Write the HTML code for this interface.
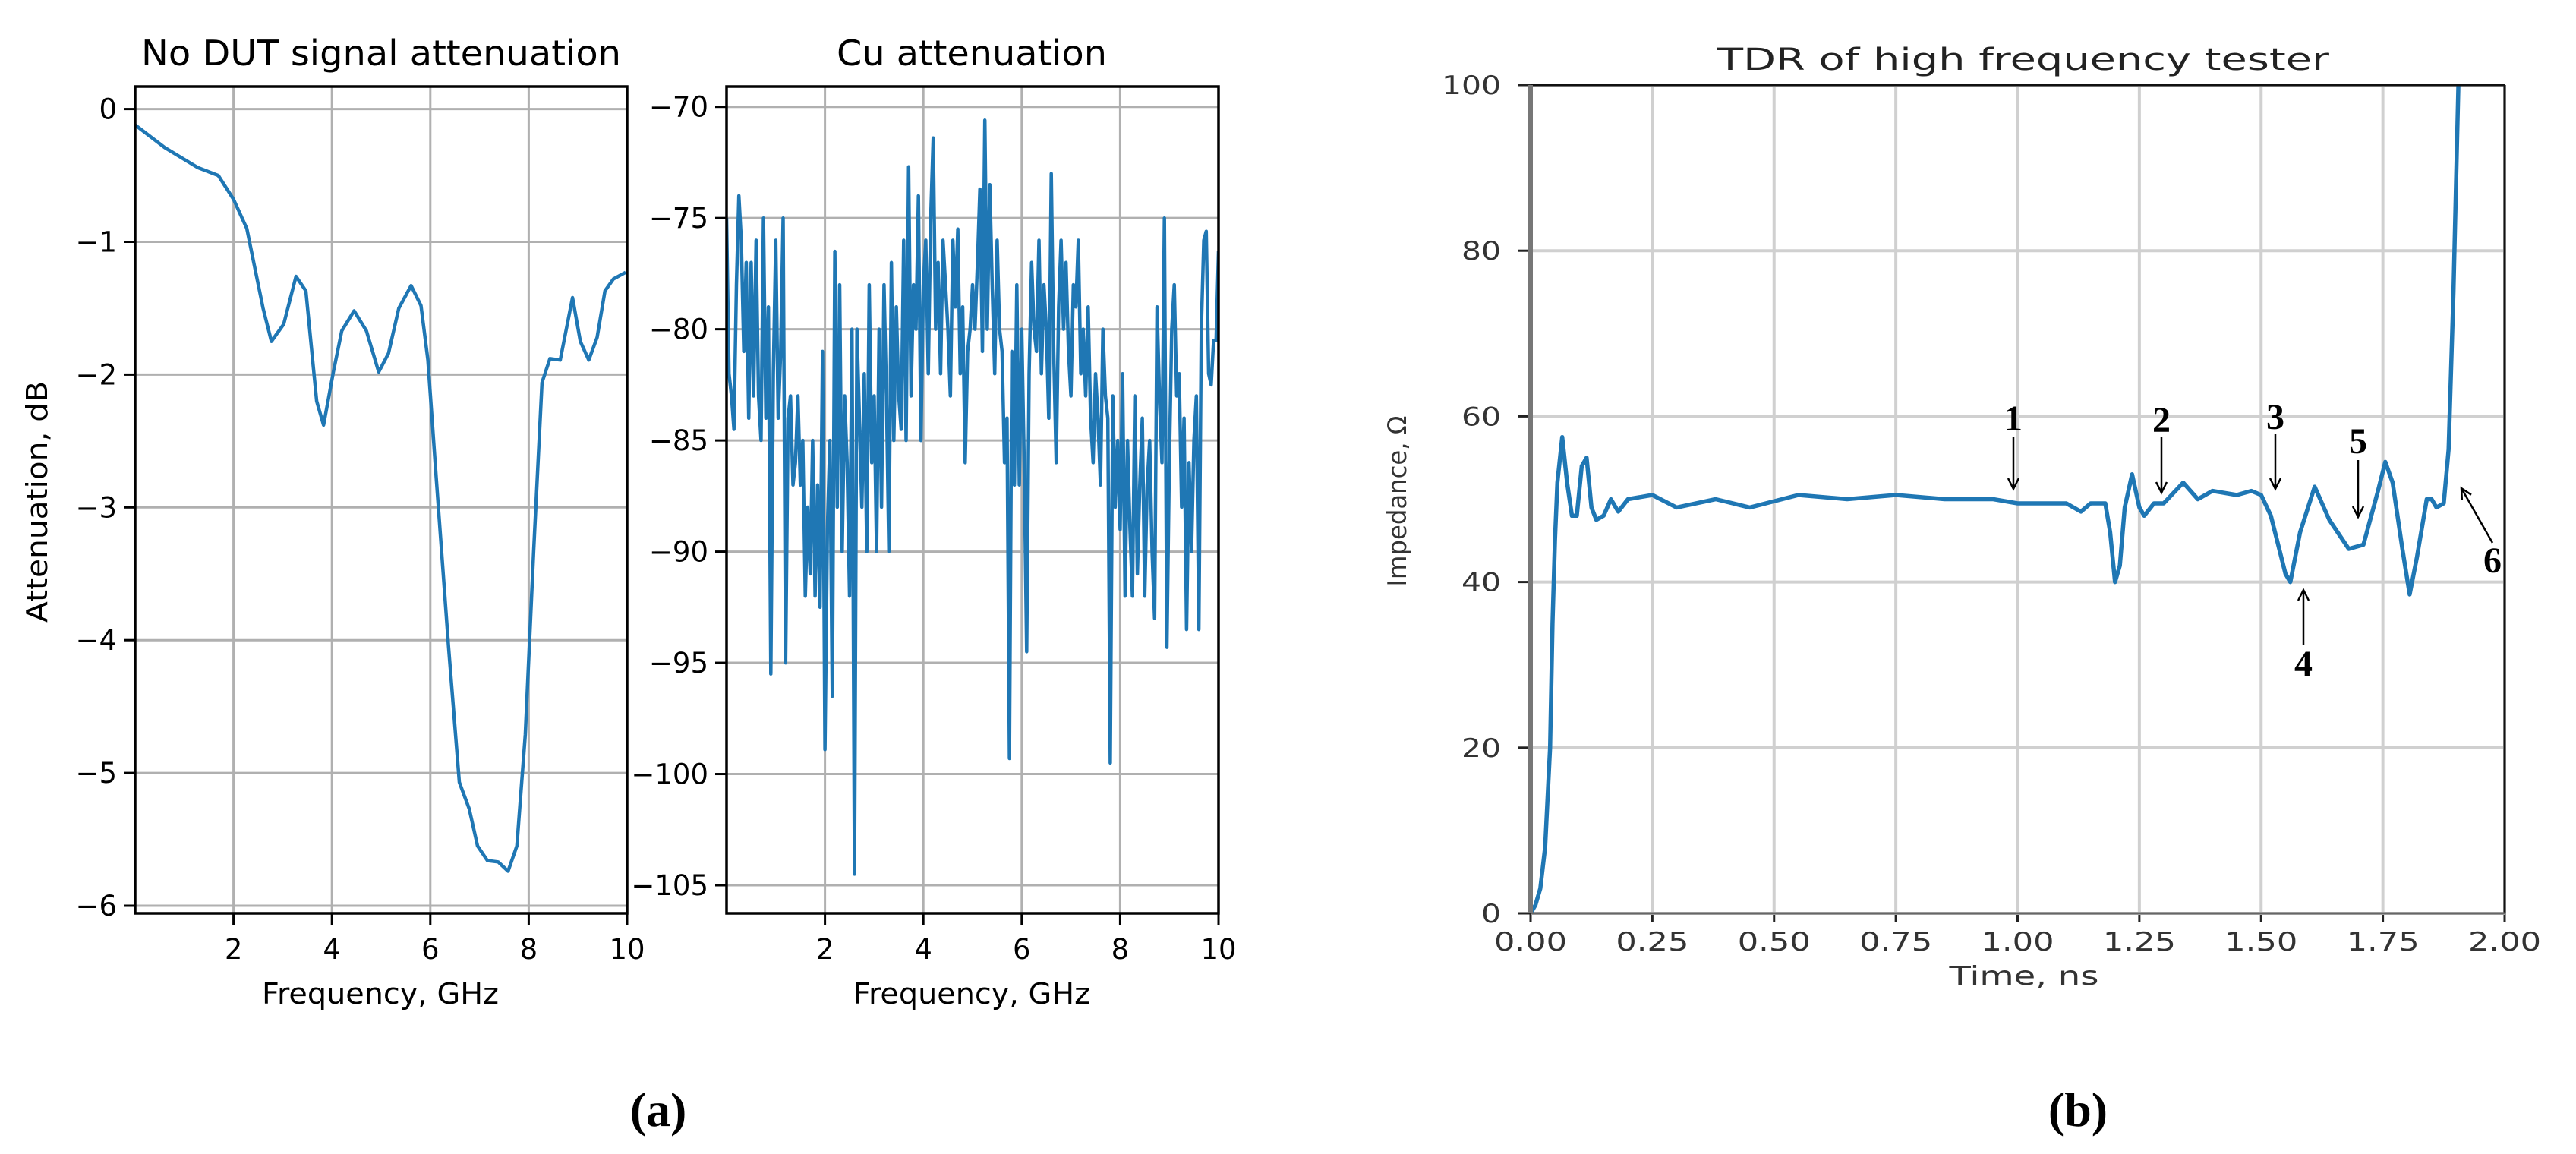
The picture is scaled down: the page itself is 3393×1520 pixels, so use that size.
<!DOCTYPE html>
<html><head><meta charset="utf-8"><style>
html,body{margin:0;padding:0;background:#fff;}
svg{display:block;}
text{font-family:"DejaVu Sans","Liberation Sans",sans-serif;}
</style></head><body>
<svg id="fig" width="3393" height="1520" viewBox="0 0 3393 1520" xmlns="http://www.w3.org/2000/svg"></svg>
<script>
// ---- Panel A: No DUT signal attenuation ----
const aFreq = [0.0,0.6,1.27,1.69,2.0,2.27,2.6,2.77,3.02,3.27,3.47,3.69,3.83,4.03,4.2,4.45,4.7,4.95,5.15,5.36,5.61,5.81,5.95,6.12,6.37,6.59,6.79,6.96,7.16,7.38,7.58,7.76,7.93,8.1,8.27,8.43,8.64,8.89,9.05,9.22,9.39,9.55,9.72,9.97];
const aAtt = [-0.12,-0.29,-0.44,-0.5,-0.68,-0.9,-1.5,-1.75,-1.62,-1.26,-1.37,-2.2,-2.38,-1.98,-1.67,-1.52,-1.67,-1.98,-1.84,-1.5,-1.33,-1.48,-1.89,-2.78,-4.05,-5.07,-5.27,-5.55,-5.66,-5.67,-5.74,-5.55,-4.71,-3.33,-2.06,-1.88,-1.89,-1.42,-1.75,-1.89,-1.72,-1.37,-1.28,-1.23];
const aYTicks = [0,-1,-2,-3,-4,-5,-6];
const aYLabels = ["0","−1","−2","−3","−4","−5","−6"];
const freqTicks = [2,4,6,8,10];
const freqLabels = ["2","4","6","8","10"];
// ---- Panel B: Cu attenuation (0.05 GHz step) ----
const cuAtt = [
-75,-82,-83,-84.5,-78,-74,-76,-81,-77,-84,-77,-83,-76,-83,-85,-75,-84,-79,-95.5,-82,
-76,-84,-81,-75,-95,-84,-83,-87,-86,-83,-87,-85,-92,-88,-91,-85,-92,-87,-92.5,-81,
-98.9,-89,-85,-96.5,-76.5,-88,-78,-90,-83,-86,-92,-80,-104.5,-80,-84,-88,-82,-90,-78,-86,
-83,-90,-80,-88,-78,-83,-90,-77,-85,-79,-83,-84.5,-76,-85,-72.7,-83,-78,-80,-74,-85,
-78,-76,-82,-75,-71.4,-80,-77,-82,-76,-78,-80,-83,-76,-79,-75.5,-82,-79,-86,-81,-80,
-78,-80,-77,-73.7,-81,-70.6,-80,-73.5,-78,-82,-76,-80,-81,-86,-84,-99.3,-81,-87,-78,-87,
-80,-86,-94.5,-82,-77,-80,-81,-76,-82,-78,-80,-84,-73,-81,-86,-79,-76,-80,-77,-81,
-83,-78,-79,-76,-82,-80,-83,-79,-84,-86,-82,-84,-87,-80,-83,-84,-99.5,-83,-88,-85,
-89,-82,-92,-85,-89,-92,-83,-91,-87,-84,-92,-87,-85,-90,-93,-79,-83,-86,-75,-94.3,
-86,-80,-78,-83,-82,-88,-84,-93.5,-86,-90,-85,-83,-93.5,-80,-76,-75.6,-82,-82.5,-80.5,-80.5,-76.5];
const cuStep = 0.05;
const cuYTicks = [-70,-75,-80,-85,-90,-95,-100,-105];
const cuYLabels = ["−70","−75","−80","−85","−90","−95","−100","−105"];
// ---- Panel C: TDR ----
const tdrTime = [0,0.01,0.02,0.03,0.04,0.045,0.05,0.055,0.065,0.075,0.085,0.095,0.105,0.115,0.125,0.135,0.15,0.165,0.18,0.2,0.25,0.3,0.38,0.45,0.55,0.65,0.75,0.85,0.95,1.0,1.1,1.13,1.15,1.18,1.19,1.2,1.21,1.22,1.235,1.25,1.26,1.28,1.3,1.34,1.37,1.4,1.45,1.48,1.5,1.52,1.55,1.56,1.58,1.61,1.64,1.68,1.71,1.74,1.755,1.77,1.79,1.805,1.82,1.84,1.85,1.86,1.875,1.885,1.895,1.905,1.91];
const tdrZ = [0,1,3,8,20,35,45,52,57.5,52,48,48,54,55,49,47.5,48,50,48.5,50,50.5,49,50,49,50.5,50,50.5,50,50,49.5,49.5,48.5,49.5,49.5,46,40,42,49,53,49,48,49.5,49.5,52,50,51,50.5,51,50.5,48,41,40,46,51.5,47.5,44,44.5,51,54.5,52,44,38.5,43,50,50,49,49.5,56,75,100,108];
const tTicks = [0,0.25,0.5,0.75,1.0,1.25,1.5,1.75,2.0];
const tLabels = ["0.00","0.25","0.50","0.75","1.00","1.25","1.50","1.75","2.00"];
const zTicks = [0,20,40,60,80,100];
const zLabels = ["0","20","40","60","80","100"];

const NS="http://www.w3.org/2000/svg";
const svg=document.getElementById('fig');
function el(tag,attrs,parent,txt){const e=document.createElementNS(NS,tag);for(const k in attrs)e.setAttribute(k,attrs[k]);if(txt!==undefined)e.textContent=txt;(parent||svg).appendChild(e);return e;}
function lin(d0,d1,p0,p1){return v=>p0+(v-d0)/(d1-d0)*(p1-p0);}
const BLUE="#1f77b4";
const SERIF='font-family:"Liberation Serif","DejaVu Serif",serif;font-weight:bold;';

const A={l:178,r:826,t:114,b:1203};
const ax=lin(0,10,A.l,A.r), ay=lin(0,-6,143.6,1193);
const B={l:957,r:1605,t:114,b:1203};
const bx=lin(0,10,B.l,B.r), by=lin(-70,-105,140.7,1166);
const C={l:2016,r:3299,t:112,b:1203};
const cx=lin(0,2,C.l,C.r), cy=lin(0,100,C.b,C.t);

function mplPanel(P,xs,ys,xTicks,xLabs,yTicks,yLabs,name){
  const g=el('g',{},svg);
  
  
  const clipId=name+'-clip';
  const cp=el('clipPath',{id:clipId},g);el('rect',{x:P.l,y:P.t,width:P.r-P.l,height:P.b-P.t},cp);
  xTicks.forEach((v,i)=>{
    const x=xs(v);
    const gl=el('line',{x1:x,x2:x,y1:P.t,y2:P.b,stroke:'#b0b0b0','stroke-width':3},g);
    
    el('line',{x1:x,x2:x,y1:P.b,y2:P.b+15,stroke:'#000','stroke-width':3},g);
    const t=el('text',{x:x,y:P.b+60,'font-size':37,'text-anchor':'middle',fill:'#000'},g,xLabs[i]);
    
  });
  yTicks.forEach((v,i)=>{
    const y=ys(v);
    const gl=el('line',{x1:P.l,x2:P.r,y1:y,y2:y,stroke:'#b0b0b0','stroke-width':3},g);
    
    el('line',{x1:P.l-15,x2:P.l,y1:y,y2:y,stroke:'#000','stroke-width':3},g);
    const t=el('text',{x:P.l-24,y:y+13,'font-size':37,'text-anchor':'end',fill:'#000'},g,yLabs[i]);
    
  });
  return {g,clipId};
}

{
  const {g,clipId}=mplPanel(A,ax,ay,freqTicks,freqLabels,aYTicks,aYLabels,'no-dut-panel');
  const pts=aFreq.map((f,i)=>ax(f).toFixed(1)+','+ay(aAtt[i]).toFixed(1)).join(' ');
  const pl=el('polyline',{points:pts,fill:'none',stroke:BLUE,'stroke-width':4.5,'stroke-linejoin':'round','clip-path':'url(#'+clipId+')'},g);
  
  el('rect',{x:A.l,y:A.t,width:A.r-A.l,height:A.b-A.t,fill:'none',stroke:'#000','stroke-width':3.5},g);
  const tt=el('text',{x:(A.l+A.r)/2,y:86,'font-size':46,'text-anchor':'middle',textLength:632,lengthAdjust:'spacingAndGlyphs'},g,'No DUT signal attenuation');
  
  const xl=el('text',{x:501,y:1322,'font-size':38,'text-anchor':'middle',textLength:312,lengthAdjust:'spacingAndGlyphs'},g,'Frequency, GHz');
  
  const yl=el('text',{x:0,y:0,'font-size':38,'text-anchor':'middle',textLength:318,lengthAdjust:'spacingAndGlyphs',transform:'translate(62,661) rotate(-90)'},g,'Attenuation, dB');
  
}
{
  const {g,clipId}=mplPanel(B,bx,by,freqTicks,freqLabels,cuYTicks,cuYLabels,'cu-panel');
  const pts=cuAtt.map((v,i)=>bx(i*cuStep).toFixed(1)+','+by(v).toFixed(1)).join(' ');
  const pl=el('polyline',{points:pts,fill:'none',stroke:BLUE,'stroke-width':4.5,'stroke-linejoin':'round','clip-path':'url(#'+clipId+')'},g);
  
  el('rect',{x:B.l,y:B.t,width:B.r-B.l,height:B.b-B.t,fill:'none',stroke:'#000','stroke-width':3.5},g);
  const tt=el('text',{x:1280,y:86,'font-size':46,'text-anchor':'middle',textLength:356,lengthAdjust:'spacingAndGlyphs'},g,'Cu attenuation');
  
  const xl=el('text',{x:1280,y:1322,'font-size':38,'text-anchor':'middle',textLength:312,lengthAdjust:'spacingAndGlyphs'},g,'Frequency, GHz');
  
}
{
  const g=el('g',{},svg);
  
  
  const cp=el('clipPath',{id:'tdr-clip'},g);el('rect',{x:C.l,y:C.t,width:C.r-C.l,height:C.b-C.t},cp);
  tTicks.forEach((v,i)=>{
    const x=cx(v);
    const gl=el('line',{x1:x,x2:x,y1:C.t,y2:C.b,stroke:'#d0d0d0','stroke-width':4},g);
    
    el('line',{x1:x,x2:x,y1:C.b,y2:C.b+12,stroke:'#222','stroke-width':3},g);
    const t=el('text',{x:x,y:1252,'font-size':34,'text-anchor':'middle',fill:'#333',textLength:96,lengthAdjust:'spacingAndGlyphs'},g,tLabels[i]);
    
  });
  zTicks.forEach((v,i)=>{
    const y=cy(v);
    const gl=el('line',{x1:C.l,x2:C.r,y1:y,y2:y,stroke:'#d0d0d0','stroke-width':4},g);
    
    el('line',{x1:C.l-16,x2:C.l,y1:y,y2:y,stroke:'#222','stroke-width':3},g);
    const t=el('text',{x:1977,y:y+12,'font-size':34,'text-anchor':'end',fill:'#333',textLength:zLabels[i].length*26,lengthAdjust:'spacingAndGlyphs'},g,zLabels[i]);
    
  });
  const pts=tdrTime.map((t,i)=>cx(t).toFixed(1)+','+cy(tdrZ[i]).toFixed(1)).join(' ');
  const pl=el('polyline',{points:pts,fill:'none',stroke:BLUE,'stroke-width':5.5,'stroke-linejoin':'round','clip-path':'url(#tdr-clip)'},g);
  
  el('line',{x1:C.l,x2:C.r,y1:C.t,y2:C.t,stroke:'#111','stroke-width':3},g);
  el('line',{x1:C.r,x2:C.r,y1:C.t,y2:C.b,stroke:'#111','stroke-width':3},g);
  el('line',{x1:C.l,x2:C.r,y1:C.b,y2:C.b,stroke:'#666','stroke-width':3},g);
  el('line',{x1:C.l,x2:C.l,y1:C.t,y2:C.b,stroke:'#777','stroke-width':6},g);
  const tt=el('text',{x:2665,y:92,'font-size':40,'text-anchor':'middle',fill:'#222',textLength:806,lengthAdjust:'spacingAndGlyphs'},g,'TDR of high frequency tester');
  
  const xl=el('text',{x:2666,y:1297,'font-size':34,'text-anchor':'middle',fill:'#333',textLength:197,lengthAdjust:'spacingAndGlyphs'},g,'Time, ns');
  
  const yl=el('text',{x:0,y:0,'font-size':34,'text-anchor':'middle',fill:'#333',textLength:225,lengthAdjust:'spacingAndGlyphs',transform:'translate(1852,660) rotate(-90)'},g,'Impedance, Ω');
  
  const ann=[
    {n:'1',lx:2652,ly:567,x1:2652,y1:575,x2:2652,y2:644},
    {n:'2',lx:2847,ly:569,x1:2847,y1:575,x2:2847,y2:649},
    {n:'3',lx:2997,ly:565,x1:2997,y1:572,x2:2997,y2:644},
    {n:'4',lx:3034,ly:890,x1:3034,y1:850,x2:3034,y2:777},
    {n:'5',lx:3106,ly:597,x1:3106,y1:606,x2:3106,y2:681},
    {n:'6',lx:3283,ly:754,x1:3283,y1:715,x2:3242,y2:643}
  ];
  ann.forEach(a=>{
    const ag=el('g',{},g);
    
    
    el('line',{x1:a.x1,y1:a.y1,x2:a.x2,y2:a.y2,stroke:'#000','stroke-width':2.5},ag);
    const dx=a.x2-a.x1,dy=a.y2-a.y1,L=Math.hypot(dx,dy),ux=dx/L,uy=dy/L,h=14,w=7;
    const bx0=a.x2-ux*h,by0=a.y2-uy*h;
    el('polyline',{points:(bx0-uy*w)+','+(by0+ux*w)+' '+a.x2+','+a.y2+' '+(bx0+uy*w)+','+(by0-ux*w),fill:'none',stroke:'#000','stroke-width':2.5},ag);
    el('text',{x:a.lx,y:a.ly,'font-size':48,'text-anchor':'middle',style:SERIF},ag,a.n);
  });
}
const ca=el('text',{x:867,y:1483,'font-size':64,'text-anchor':'middle',style:SERIF},svg,'(a)');

const cb=el('text',{x:2737,y:1483,'font-size':64,'text-anchor':'middle',style:SERIF},svg,'(b)');

</script>
</body></html>
